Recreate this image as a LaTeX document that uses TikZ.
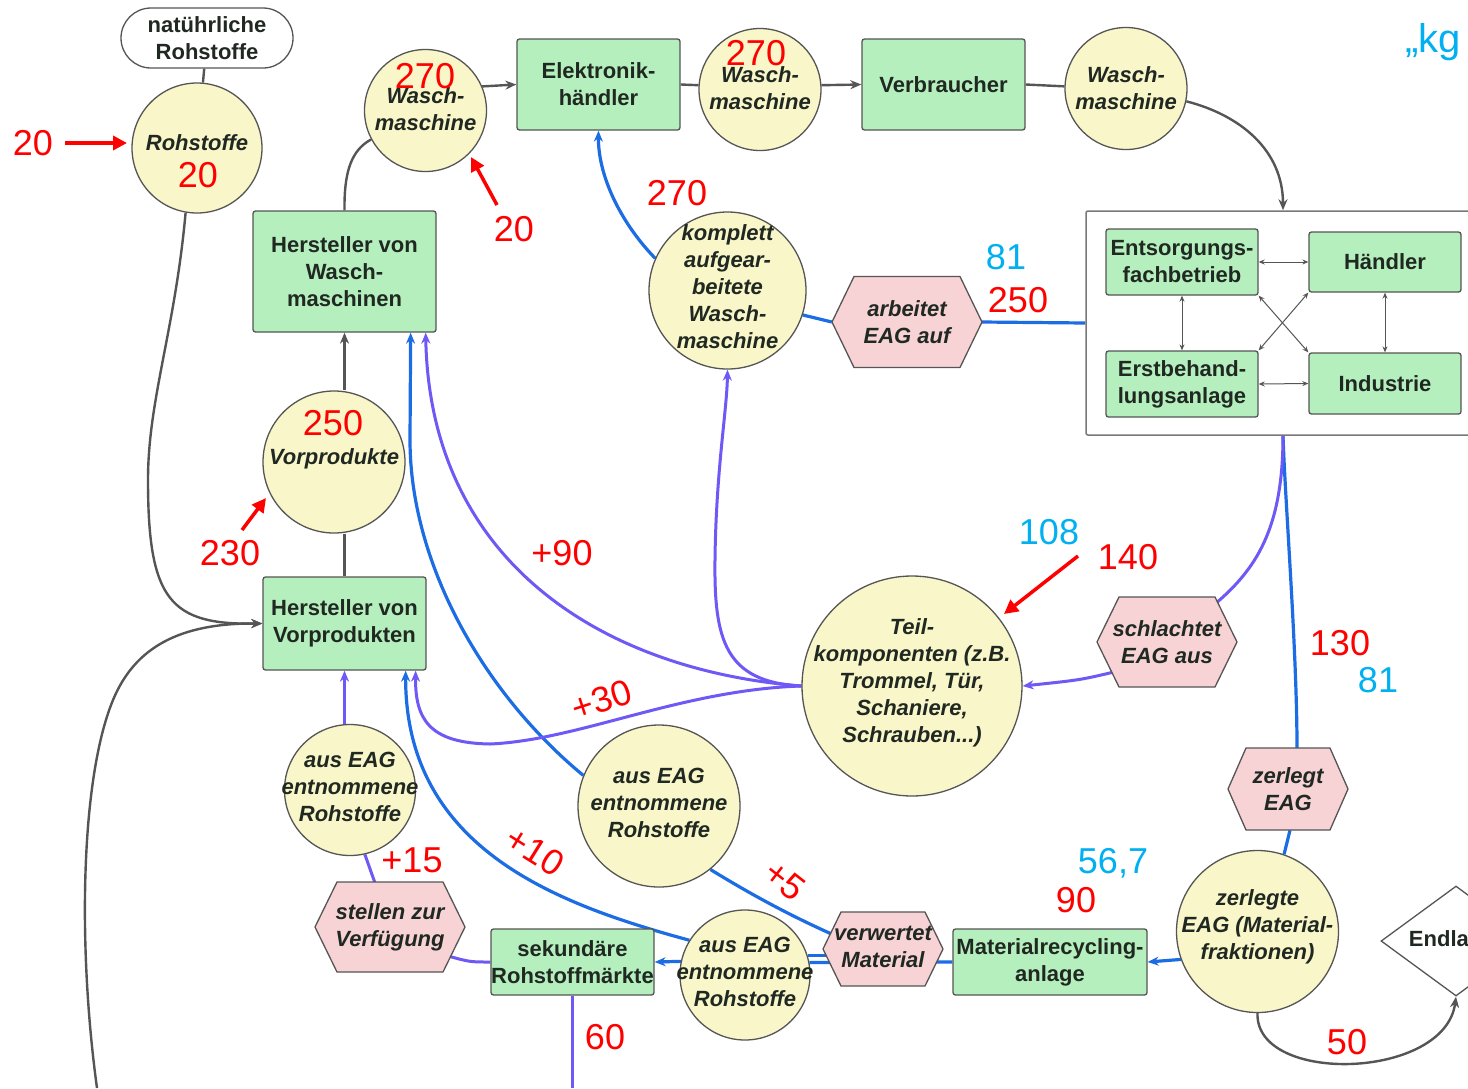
\documentclass[tikz,border=0pt]{standalone}
\usepackage{fontspec}
\setmainfont{Liberation Sans}
\usetikzlibrary{arrows.meta,shapes.geometric,backgrounds}

\definecolor{boxgreen}{RGB}{182,239,190}
\definecolor{circyel}{RGB}{249,246,201}
\definecolor{hexpink}{RGB}{248,211,214}
\definecolor{edgegray}{RGB}{85,85,85}
\definecolor{framegray}{RGB}{120,120,120}
\definecolor{flowblue}{RGB}{28,108,228}
\definecolor{flowpurple}{RGB}{110,88,246}
\definecolor{numred}{RGB}{255,0,0}
\definecolor{numcyan}{RGB}{0,176,240}
\definecolor{darktext}{RGB}{32,40,34}

% hexagon with pointed left/right ends: centre x, centre y, half width, half height, corner inset
\newcommand\hexbody[5]{%
  \filldraw[hexline] ({#1-#3},#2) -- ({#1-#3+#5},{#2-#4}) -- ({#1+#3-#5},{#2-#4})
    -- ({#1+#3},#2) -- ({#1+#3-#5},{#2+#4}) -- ({#1-#3+#5},{#2+#4}) -- cycle;}

\begin{document}
\begin{tikzpicture}[x=1pt,y=-1pt,
  box/.style={draw=edgegray,line width=1.3pt,fill=boxgreen,rounded corners=2.5pt,inner sep=0pt,
    align=center,text=darktext,font=\bfseries\fontsize{22}{27}\selectfont},
  circ/.style={circle,draw=edgegray,line width=1.3pt,fill=circyel,inner sep=0pt},
  ctext/.style={inner sep=0pt,align=center,text=darktext,font=\bfseries\itshape\fontsize{22}{27}\selectfont},
  hexline/.style={draw=edgegray,line width=1.3pt,fill=hexpink},
  rednum/.style={text=numred,font=\fontsize{36}{40}\selectfont,inner sep=0pt},
  cyannum/.style={text=numcyan,font=\fontsize{36}{40}\selectfont,inner sep=0pt},
  gflow/.style={draw=edgegray,line width=2.4pt},
  bflow/.style={draw=flowblue,line width=3.2pt},
  pflow/.style={draw=flowpurple,line width=3pt},
  tip/.style={-{Stealth[length=11pt,width=9pt]}},
  redarrow/.style={draw=numred,line width=3.5pt,-{Triangle[length=14pt,width=14pt]}},
  minor/.style={draw=edgegray,line width=1pt,>={Stealth[length=6pt,width=5pt]},<->},
]
\useasboundingbox (0,0) rectangle (1468,1088);

% ---------- boxes ----------
\node[box,rounded corners=30pt,fill=white,minimum width=172pt,minimum height=60pt] (nat) at (207,38) {natührliche\\Rohstoffe};
\node[box,minimum width=183pt,minimum height=121pt] (hwm) at (344.5,271.5) {Hersteller von\\Wasch-\\maschinen};
\node[box,minimum width=163pt,minimum height=91pt] (elek) at (598.5,84.5) {Elektronik-\\händler};
\node[box,minimum width=163pt,minimum height=91pt] (verb) at (943.5,84.5) {Verbraucher};
\node[box,minimum width=163pt,minimum height=93pt] (hvp) at (344.5,623.5) {Hersteller von\\Vorprodukten};
\node[box,minimum width=163pt,minimum height=66pt] (sek) at (572.5,962) {sekundäre\\Rohstoffmärkte};
\node[box,minimum width=194pt,minimum height=66pt] (mat) at (1050,962) {Materialrecycling-\\anlage};

\begin{scope}
  \clip (0,0) rectangle (1468,1088);
  \node[draw=framegray,line width=1.5pt,rounded corners=2pt,minimum width=394pt,minimum height=224pt,inner sep=0pt] (cont) at (1283,323) {};
  \node[diamond,draw=edgegray,line width=1.3pt,fill=white,minimum width=150pt,minimum height=110pt,inner sep=0pt] (endl) at (1456,941) {};
  \node[ctext,font=\bfseries\fontsize{22}{27}\selectfont] (endlT) at (1456,941) {Endlager};
\end{scope}

\node[box,minimum width=152pt,minimum height=66pt] (ents) at (1182,262) {Entsorgungs-\\fachbetrieb};
\node[box,minimum width=152pt,minimum height=60pt] (haend) at (1385,262) {Händler};
\node[box,minimum width=152pt,minimum height=66pt] (erst) at (1182,384) {Erstbehand-\\lungsanlage};
\node[box,minimum width=152pt,minimum height=61pt] (ind) at (1385,383.5) {Industrie};

% ---------- circles ----------
\node[circ,minimum size=130pt] (rohst) at (197,148) {};
\node[ctext] (rohstT) at (197,143) {Rohstoffe};
\node[circ,minimum size=122pt] (wm1) at (425.5,110.5) {};
\node[ctext] (wm1T) at (425.5,109) {Wasch-\\maschine};
\node[circ,minimum size=122pt] (wm2) at (760,89.5) {};
\node[ctext] (wm2T) at (760,88) {Wasch-\\maschine};
\node[circ,minimum size=122pt] (wm3) at (1126,88.5) {};
\node[ctext] (wm3T) at (1126,88) {Wasch-\\maschine};
\node[circ,minimum size=157pt] (kom) at (727.5,290.5) {};
\node[ctext] (komT) at (727.5,287) {komplett\\aufgear-\\beitete\\Wasch-\\maschine};
\node[circ,minimum size=142pt] (vorp) at (334,462) {};
\node[ctext] (vorpT) at (334,459) {Vorprodukte};
\node[circ,minimum size=220pt] (teil) at (912,686) {};
\node[ctext] (teilT) at (912,683) {Teil-\\komponenten (z.B.\\Trommel, Tür,\\Schaniere,\\Schrauben...)};
\node[circ,minimum size=131pt] (aea) at (350,790) {};
\node[ctext] (aeaT) at (350,787) {aus EAG\\entnommene\\Rohstoffe};
\node[circ,minimum size=162pt] (aeb) at (659,806) {};
\node[ctext] (aebT) at (659,803) {aus EAG\\entnommene\\Rohstoffe};
\node[circ,minimum size=130pt] (aec) at (745,975) {};
\node[ctext] (aecT) at (745,972) {aus EAG\\entnommene\\Rohstoffe};
\node[circ,minimum size=162pt] (zerl) at (1257.5,931.5) {};
\node[ctext] (zerlT) at (1257.5,927) {zerlegte\\EAG (Material-\\fraktionen)};

% ---------- hexagons ----------
\hexbody{907}{322}{75}{45.5}{22}
\node[ctext,minimum width=150pt,minimum height=91pt] (arb) at (907,322) {arbeitet\\EAG auf};
\hexbody{1167}{642}{70}{45}{22}
\node[ctext,minimum width=140pt,minimum height=90pt] (schl) at (1167,642) {schlachtet\\EAG aus};
\hexbody{1288}{789}{60}{41}{18}
\node[ctext,minimum width=120pt,minimum height=82pt] (zerg) at (1288,789) {zerlegt\\EAG};
\hexbody{390}{927}{75}{45}{22}
\node[ctext,minimum width=150pt,minimum height=90pt] (stel) at (390,927) {stellen zur\\Verfügung};
\hexbody{883}{949}{60}{37}{18}
\node[ctext,minimum width=120pt,minimum height=74pt] (verw) at (883,947) {verwertet\\Material};

% ---------- free ends ----------
\coordinate (lowin) at (97,1088);
\coordinate (sekout) at (572.5,1088);
\coordinate (schlTR) at (1215,604);
\coordinate (schlBL) at (1114,672);
\coordinate (stelBR) at (448,956);
\coordinate (stelTL) at (375,883);
\coordinate (verwTL) at (836,936);

% ---------- connectors ----------
\begin{pgfonlayer}{background}
\fill[white] (0,0) rectangle (1468,1088);
% production and use chain
\draw[gflow] (nat) -- (rohst);
\draw[gflow,tip] (rohst.260) .. controls (175,330) and (148,400) .. (148,480)
  .. controls (148,600) and (170,625) .. (hvp.west);
\draw[gflow,tip] (lowin) .. controls (78,950) and (80,780) .. (113,700)
  .. controls (135,647) and (180,623) .. (hvp.west);
\draw[gflow] (hwm.north) .. controls (344,170) and (352,150) .. (wm1.208);
\draw[gflow,tip] (wm1.23) -- (elek.west);
\draw[gflow] (elek.east) -- (wm2.176);
\draw[gflow,tip] (wm2.4) -- (verb.west);
\draw[gflow] (verb.east) -- (wm3.178);
\draw[gflow,tip] (wm3.-12) .. controls (1240,115) and (1283,150) .. (cont.north);
\draw[gflow,tip] (hwm.south |- vorp.north) -- (hwm.south);
\draw[gflow] (hvp.north |- vorp.south) -- (hvp.north);
\draw[gflow,tip] (zerl.south) .. controls (1255,1085) and (1445,1080) .. (endl.south);

% collection network
\draw[minor] (ents.east) -- (haend.west);
\draw[minor] (erst.east) -- (ind.west);
\draw[minor] (ents.south) -- (erst.north);
\draw[minor] (haend.south) -- (ind.north);
\draw[minor] (ents.south east) -- (ind.north west);
\draw[minor] (haend.south west) -- (erst.north east);

% reuse and recycling (blue)
\draw[bflow,tip] (kom.156) .. controls (620,222) and (598,175) .. (elek.south);
\draw[bflow] (kom.-18) -- (arb.west);
\draw[bflow] (arb.east) -- (cont.west);
\draw[bflow] (cont.south) .. controls (1285,500) and (1297,650) .. ([xshift=9pt]zerg.north);
\draw[bflow] ([xshift=2pt]zerg.south) -- (zerl.71);
\draw[bflow,tip] (zerl.200) -- (mat.east);
\draw[bflow] (mat.west) -- (aec.11);
\draw[bflow] (aec.17) -- (aec.17 -| verw);
\draw[bflow,tip] (aec.168) -- (sek.east);
\draw[bflow] (aeb.-51) .. controls (760,900) and (800,920) .. (verwTL);
\draw[bflow,tip] (aeb.158) .. controls (480,690) and (410,560) .. (410,440) -- ([xshift=-26pt]hwm.south east);
\draw[bflow,tip] (aec.148) .. controls (560,905) and (405,850) .. ([xshift=-21pt]hvp.south east);

% parts harvesting (purple)
\draw[pflow,tip] (teil.west) .. controls (725,682) and (714,640) .. (715,560)
  .. controls (716,470) and (727,410) .. (kom.south);
\draw[pflow,tip] (teil.west) .. controls (600,670) and (430,560) .. ([xshift=-11pt]hwm.south east);
\draw[pflow,tip] (teil.west) .. controls (680,690) and (580,740) .. (490,744)
  .. controls (430,743) and (415,720) .. ([xshift=-11pt]hvp.south east);
\draw[pflow] (cont.south) .. controls (1283,530) and (1255,570) .. (schlTR);
\draw[pflow,tip] (schlBL) .. controls (1080,680) .. (teil.east);
\draw[pflow] (sek.west) .. controls (470,962) .. (stelBR);
\draw[pflow] (stelTL) -- (aea.-77);
\draw[pflow,tip] (hvp.south |- aea.north) -- (hvp.south);
\draw[pflow] (sek.south) -- (sekout);
\end{pgfonlayer}

% ---------- quantity arrows ----------
\coordinate (a20s) at (65,143);   \coordinate (a20e) at (127,143);
\coordinate (b20s) at (497,205);  \coordinate (b20e) at (471,157);
\coordinate (c230s) at (242,530); \coordinate (c230e) at (266,498);
\coordinate (d140s) at (1078,556); \coordinate (d140e) at (1004,614);
\draw[redarrow] (a20s) -- (a20e);
\draw[redarrow] (b20s) -- (b20e);
\draw[redarrow] (c230s) -- (c230e);
\draw[redarrow] (d140s) -- (d140e);

% ---------- quantities ----------
\node[rednum] (n20a) at (33,143) {20};
\node[rednum] (n20b) at (198,175) {20};
\node[rednum] (n270a) at (425,76) {270};
\node[rednum] (n20c) at (514,229) {20};
\node[rednum] (n270b) at (756,53) {270};
\node[rednum] (n270c) at (677,193) {270};
\node[cyannum] (c81a) at (1006,257) {81};
\node[rednum] (n250a) at (1018,300) {250};
\node[rednum] (n250b) at (333,423) {250};
\node[rednum] (n230) at (230,553) {230};
\node[rednum] (n90p) at (562,553) {+90};
\node[rednum,rotate=18] (n30p) at (602,700) {+30};
\node[cyannum] (c108) at (1049,532) {108};
\node[rednum] (n140) at (1128,557) {140};
\node[rednum] (n130) at (1340,643) {130};
\node[cyannum] (c81b) at (1378,680) {81};
\node[rednum] (n15p) at (412,860) {+15};
\node[rednum,rotate=-32] (n10p) at (535,851) {+10};
\node[rednum,rotate=-38] (n5p) at (785,881) {+5};
\node[rednum] (n60) at (605,1037) {60};
\node[cyannum] (c567) at (1113,863) {56,7};
\node[rednum] (n90) at (1076,900) {90};
\node[rednum] (n50) at (1347,1042) {50};
\node[cyannum,font=\fontsize{40}{44}\selectfont] (kg) at (1433,42) {„kg};
\end{tikzpicture}
\end{document}
